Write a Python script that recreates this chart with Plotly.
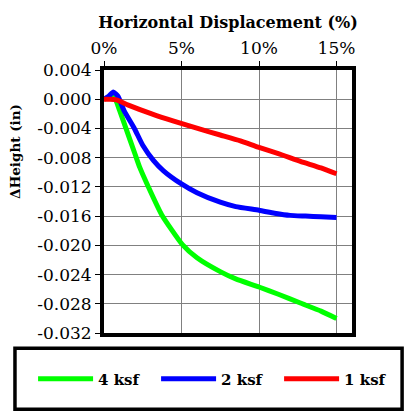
import plotly.graph_objects as go

# Horizontal displacement (fraction) and change in height (in)
x_4ksf = [0.0, 0.002, 0.004, 0.007, 0.010, 0.0145, 0.020, 0.023, 0.0282, 0.0372, 0.0506, 0.060, 0.075, 0.085, 0.100, 0.1125, 0.1267, 0.140, 0.150]
y_4ksf = [0.0, 0.0002, 0.0003, 0.0001, -0.0015, -0.0042, -0.0075, -0.0093, -0.0118, -0.0158, -0.0199, -0.0217, -0.0236, -0.0246, -0.0257, -0.0267, -0.0279, -0.0290, -0.0300]

x_2ksf = [0.0, 0.003, 0.006, 0.009, 0.013, 0.0196, 0.025, 0.032, 0.0384, 0.050, 0.060, 0.075, 0.085, 0.100, 0.110, 0.120, 0.130, 0.140, 0.150]
y_2ksf = [0.0, 0.0004, 0.0010, 0.0004, -0.0016, -0.0040, -0.0063, -0.0084, -0.0098, -0.0116, -0.0128, -0.0141, -0.0147, -0.0152, -0.0156, -0.0159, -0.0160, -0.0161, -0.0162]

x_1ksf = [0.0, 0.004, 0.008, 0.0157, 0.0308, 0.045, 0.062, 0.075, 0.088, 0.100, 0.112, 0.1267, 0.140, 0.150]
y_1ksf = [0.0, 0.0000, -0.0001, -0.0008, -0.0020, -0.0030, -0.0041, -0.0049, -0.0057, -0.0066, -0.0074, -0.0085, -0.0094, -0.0102]

series_names = ["4 ksf", "2 ksf", "1 ksf"]
series_colors = ["#00ff00", "#0000ff", "#ff0000"]

x_tick_vals = [0.0, 0.05, 0.10, 0.15]
x_tick_labels = ["0%", "5%", "10%", "15%"]
y_tick_vals = [0.004, 0.000, -0.004, -0.008, -0.012, -0.016, -0.020, -0.024, -0.028, -0.032]
y_tick_labels = ["0.004", "0.000", "-0.004", "-0.008", "-0.012", "-0.016", "-0.020", "-0.024", "-0.028", "-0.032"]

x_title = "Horizontal Displacement (%)"
y_title = "ΔHeight (in)"

FONT = "DejaVu Serif"
legend_ids = ["legend", "legend2", "legend3"]
legend_x = [-0.286, 0.210, 0.706]

fig = go.Figure()
for xs, ys, name, color, lid in zip([x_4ksf, x_2ksf, x_1ksf], [y_4ksf, y_2ksf, y_1ksf],
                                    series_names, series_colors, legend_ids):
    fig.add_trace(go.Scatter(x=xs, y=ys, mode="lines", name=name, legend=lid,
                             line=dict(color=color, width=5, shape="spline", smoothing=0.5)))

legend_style = dict(orientation="h", xanchor="left", y=-0.175, yanchor="middle",
                    font=dict(family=FONT, size=15, color="black", weight="bold"),
                    bgcolor="rgba(0,0,0,0)", borderwidth=0, itemwidth=55)

fig.update_layout(
    width=404, height=411,
    margin=dict(l=104, r=52, t=70, b=78),
    paper_bgcolor="white", plot_bgcolor="white",
    font=dict(family=FONT, color="black", size=16),
    showlegend=True,
    legend=dict(x=legend_x[0], **legend_style),
    legend2=dict(x=legend_x[1], **legend_style),
    legend3=dict(x=legend_x[2], **legend_style),
    shapes=[dict(type="rect", xref="paper", yref="paper", x0=-0.359, x1=1.202, y0=-0.290, y1=-0.058,
                 line=dict(color="black", width=3.5), fillcolor="rgba(0,0,0,0)", layer="above")],
    annotations=[dict(text="<b>" + y_title + "</b>", xref="paper", yref="paper",
                      x=-0.359, y=0.692, xanchor="center", yanchor="middle", textangle=-90,
                      showarrow=False, font=dict(family=FONT, size=13.5, color="black"))],
)

fig.update_xaxes(
    side="top", range=[0, 0.16], tickvals=x_tick_vals, ticktext=x_tick_labels,
    title=dict(text="<b>" + x_title + "</b>", font=dict(family=FONT, size=16), standoff=7),
    tickfont=dict(family=FONT, size=17),
    showgrid=True, gridcolor="#808080", gridwidth=1,
    showline=True, linecolor="black", linewidth=4, mirror=True,
    ticks="outside", ticklen=5, tickcolor="black", tickwidth=1, zeroline=False,
)
fig.update_yaxes(
    range=[-0.032, 0.004], tickvals=y_tick_vals, ticktext=y_tick_labels,
    tickfont=dict(family=FONT, size=17),
    showgrid=True, gridcolor="#808080", gridwidth=1,
    showline=True, linecolor="black", linewidth=4, mirror=True,
    ticks="outside", ticklen=5, tickcolor="black", tickwidth=1, zeroline=False,
)

fig.write_html("out.html")
